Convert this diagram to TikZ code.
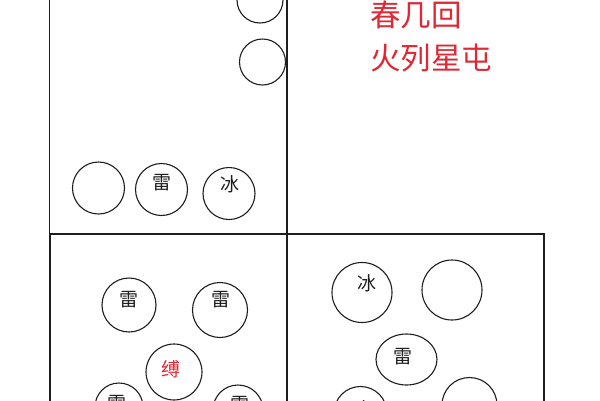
\documentclass[tikz,border=0pt]{standalone}
\usepackage{fontspec}
\usetikzlibrary{shapes.geometric}
\newfontfamily\cjk{Noto Sans CJK SC}
\definecolor{redtxt}{RGB}{222,40,52}
\definecolor{ink}{RGB}{30,30,30}
\begin{document}
\begin{tikzpicture}[x=1pt,y=-1pt,
  box/.style={draw=ink,line width=1.4pt},
  ball/.style={draw=ink,line width=1.1pt,circle,inner sep=0pt},
  oval/.style={draw=ink,line width=1.1pt,ellipse,inner sep=0pt},
  glyph/.style={font=\cjk\fontsize{19}{19}\selectfont,text=ink,inner sep=0pt},
  redglyph/.style={font=\cjk\fontsize{19}{19}\selectfont,text=redtxt,inner sep=0pt},
  title/.style={font=\cjk\fontsize{30.5}{30.5}\selectfont,text=redtxt,inner sep=0pt,anchor=west}]
\useasboundingbox (0,0) rectangle (600,400);
\fill[white] (0,0) rectangle (600,400);
\begin{scope}
\clip (0,0) rectangle (600,400);
% boxes
\draw[box] (49.5,-10) rectangle (287,234);
\draw[box] (50,234) rectangle (287,420);
\draw[box] (287,234) rectangle (544,420);
% top-left panel
\node[ball,minimum width=46pt] (t1) at (260,0) {};
\node[ball,minimum width=46pt] (t2) at (262.5,62) {};
\node[ball,minimum width=52pt] (t3) at (98.5,188) {};
\node[ball,minimum width=52pt] (t4) at (161.5,189.5) {};
\node[glyph] (t4g) at (162,183) {雷};
\node[ball,minimum width=52pt] (t5) at (229,193.5) {};
\node[glyph] (t5g) at (230,184) {冰};
% red title
\node[title] (r1) at (370,15) {春几回};
\node[title] (r2) at (370,58) {火列星屯};
% bottom-left panel
\node[ball,minimum width=54pt] (b1) at (129,305) {};
\node[glyph] (b1g) at (129,300) {雷};
\node[ball,minimum width=55pt] (b2) at (220,310) {};
\node[glyph] (b2g) at (221,300) {雷};
\node[ball,minimum width=56pt] (b3) at (174,372) {};
\node[redglyph] (b3g) at (171,369) {缚};
\node[ball,minimum width=48pt] (b4) at (119,407) {};
\node[glyph] (b4g) at (117,404) {雷};
\node[ball,minimum width=50pt] (b5) at (238,410) {};
\node[glyph] (b5g) at (240,405) {雷};
% bottom-right panel
\node[ball,minimum width=60pt] (c1) at (362,292.5) {};
\node[glyph] (c1g) at (367,283) {冰};
\node[ball,minimum width=60pt] (c2) at (452,290) {};
\node[oval,minimum width=61pt,minimum height=51pt] (c3) at (406.5,359.5) {};
\node[glyph] (c3g) at (403,357) {雷};
\node[ball,minimum width=53pt] (c4) at (360.5,413) {};
\node[glyph] (c4g) at (362,409) {冰};
\node[ball,minimum width=55pt] (c5) at (469.5,405) {};
\end{scope}
\end{tikzpicture}
\end{document}
